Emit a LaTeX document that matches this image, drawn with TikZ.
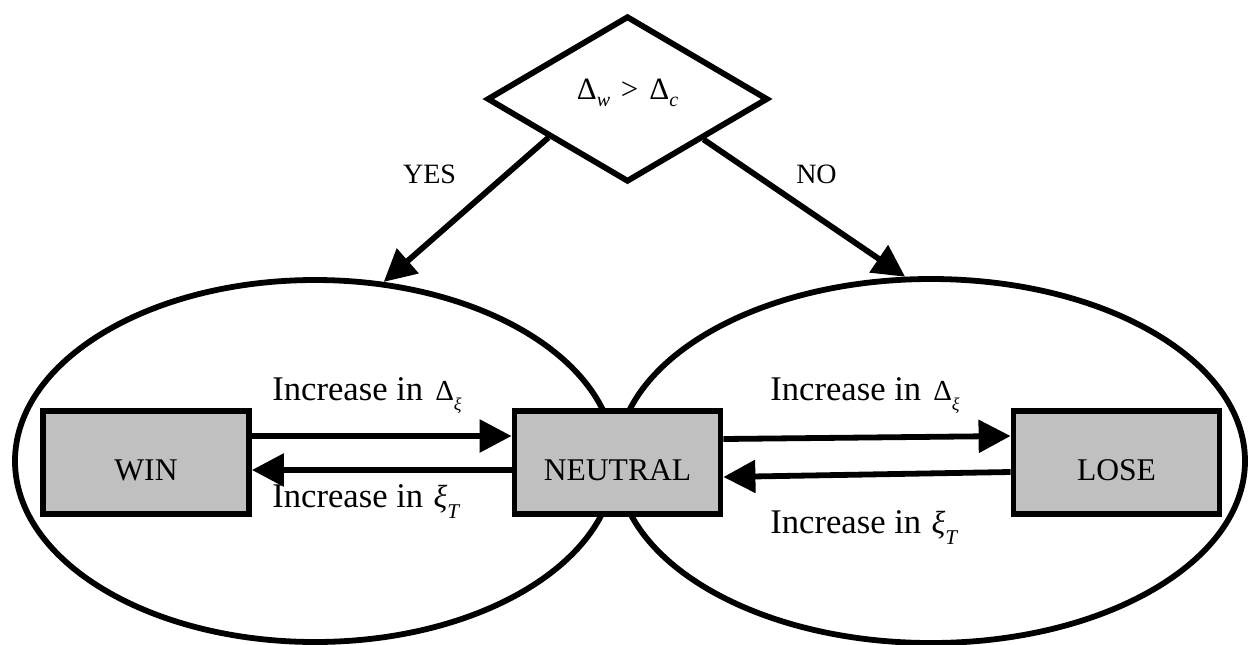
\documentclass[tikz,border=0pt]{standalone}
\usepackage{fontspec}
\setmainfont{Liberation Serif}
\usetikzlibrary{shapes.geometric,arrows.meta,calc}
\definecolor{boxgray}{RGB}{192,192,192}
\newcommand{\incD}{Increase in\hspace{0.1em} {\fontsize{14.5}{14.5}\selectfont Δ}\raisebox{-5.3pt}{\fontsize{9}{9}\selectfont\itshape ξ}}
\newcommand{\incX}{Increase in\hspace{0.05em} {\fontsize{16}{16}\selectfont\itshape ξ}\raisebox{-5.5pt}{\fontsize{10.5}{10.5}\selectfont\itshape T}}
\begin{document}
\begin{tikzpicture}[x=0.5pt,y=-0.5pt,
  lw/.style={line width=2.9pt},
  ell/.style={draw,ellipse,lw,inner sep=0pt},
  dia/.style={draw,diamond,lw,inner sep=0pt,minimum width=140.5pt,minimum height=83pt,
    text height=5pt,text depth=5pt,font=\fontsize{15.5}{15.5}\selectfont},
  boxst/.style={draw,fill=boxgray,lw,inner sep=0pt,minimum width=103pt,minimum height=51.75pt,
    text height=17.5pt,text depth=0pt,font=\fontsize{15.8}{16}\selectfont},
  arr/.style={lw,-{Triangle[length=16pt,width=16pt]}},
  lab/.style={inner sep=0pt,font=\fontsize{17.3}{18}\selectfont},
  yn/.style={inner sep=0pt,font=\fontsize{14}{14}\selectfont}]
\useasboundingbox (0,0) rectangle (1250,644);
\node[ell,minimum width=300pt,minimum height=181pt] (L) at (315,461) {};
\node[ell,minimum width=314pt,minimum height=182pt] (R) at (931,461) {};
\node[dia] (D) at (627.5,99) {Δ\raisebox{-3.5pt}{\fontsize{10}{10}\selectfont\itshape w}\hspace{0.35em}>\hspace{0.35em}Δ\raisebox{-3.5pt}{\fontsize{10}{10}\selectfont\itshape c}};
\node[boxst] (W) at (146,462.5) {WIN};
\node[boxst] (N) at (617.5,462.5) {NEUTRAL};
\node[boxst] (Lo) at (1116.5,462.5) {LOSE};
\draw[arr] ($(W.east)+(0,-26.5)$) -- ($(N.west)+(0,-26.5)$);
\draw[arr] ($(N.west)+(0,7.5)$) -- ($(W.east)+(0,7.5)$);
\draw[arr] ($(N.east)+(0,-23.5)$) -- ($(Lo.west)+(0,-26.5)$);
\draw[arr] ($(Lo.west)+(0,9.5)$) -- ($(N.east)+(0,14.5)$);
\draw[arr] (D.206.4) -- (L.69.8);
\draw[arr] (D.332.7) -- (R.98.7);
\node[yn,anchor=base] (yes) at (429.5,183) {YES};
\node[yn,anchor=base] (no) at (816.5,183) {NO};
\node[lab,anchor=base west] (t1) at (272,400) {\incD};
\node[lab,anchor=base west] (t2) at (272,507) {\incX};
\node[lab,anchor=base west] (t3) at (770,400) {\incD};
\node[lab,anchor=base west] (t4) at (770,533) {\incX};
\end{tikzpicture}
\end{document}
